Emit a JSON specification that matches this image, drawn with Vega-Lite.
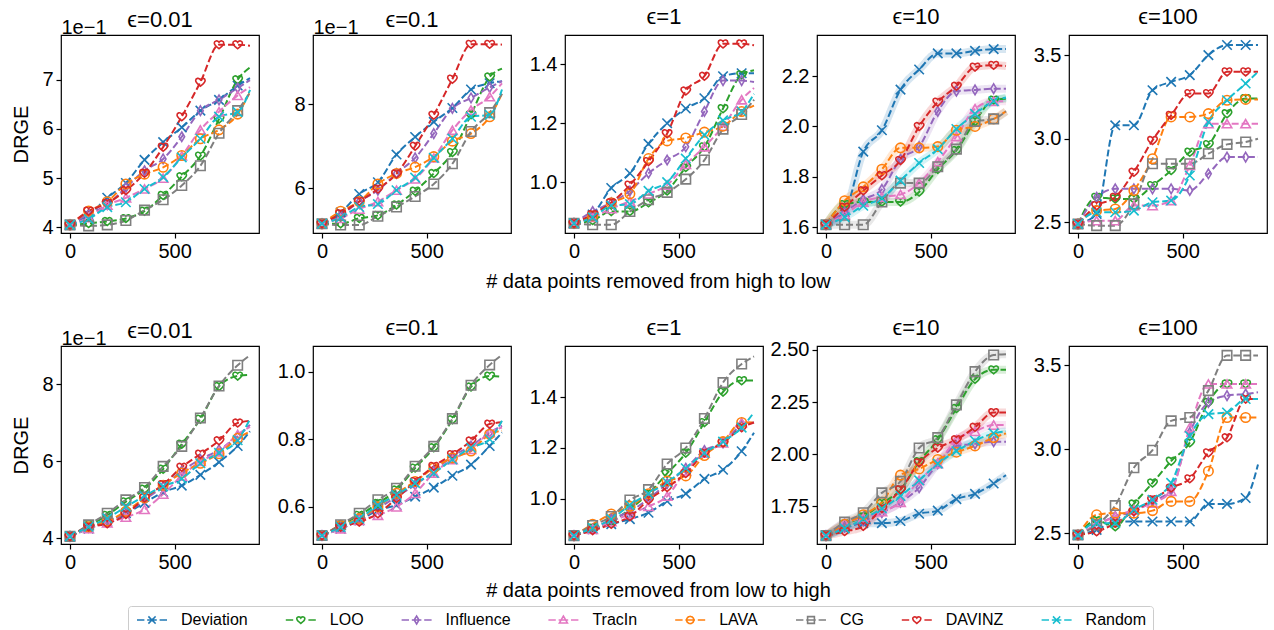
{
"$schema":"https://vega.github.io/schema/vega-lite/v6.json",
"padding":{"left":11,"top":5,"right":4,"bottom":0},
"bounds":"flush",
"columns":5,
"spacing":{"row":113,"column":54},
"data":{"values":[
{"p":"H1","x":0,"Deviation":0.405,"LOO":0.405,"Influence":0.405,"TracIn":0.405,"LAVA":0.405,"CG":0.405,"DAVINZ":0.405,"Random":0.405},
{"p":"H1","x":89,"Deviation":0.425,"LOO":0.408,"Influence":0.427,"TracIn":0.42,"LAVA":0.433,"CG":0.403,"DAVINZ":0.433,"Random":0.417},
{"p":"H1","x":178,"Deviation":0.46,"LOO":0.412,"Influence":0.446,"TracIn":0.445,"LAVA":0.452,"CG":0.405,"DAVINZ":0.449,"Random":0.441},
{"p":"H1","x":267,"Deviation":0.49,"LOO":0.418,"Influence":0.481,"TracIn":0.46,"LAVA":0.488,"CG":0.414,"DAVINZ":0.475,"Random":0.451},
{"p":"H1","x":356,"Deviation":0.537,"LOO":0.433,"Influence":0.515,"TracIn":0.478,"LAVA":0.508,"CG":0.435,"DAVINZ":0.51,"Random":0.478},
{"p":"H1","x":445,"Deviation":0.573,"LOO":0.465,"Influence":0.539,"TracIn":0.5,"LAVA":0.522,"CG":0.456,"DAVINZ":0.563,"Random":0.502},
{"p":"H1","x":534,"Deviation":0.603,"LOO":0.503,"Influence":0.584,"TracIn":0.545,"LAVA":0.546,"CG":0.485,"DAVINZ":0.625,"Random":0.542},
{"p":"H1","x":623,"Deviation":0.637,"LOO":0.545,"Influence":0.637,"TracIn":0.598,"LAVA":0.58,"CG":0.525,"DAVINZ":0.695,"Random":0.58},
{"p":"H1","x":712,"Deviation":0.659,"LOO":0.62,"Influence":0.659,"TracIn":0.635,"LAVA":0.598,"CG":0.591,"DAVINZ":0.771,"Random":0.625},
{"p":"H1","x":801,"Deviation":0.688,"LOO":0.7,"Influence":0.683,"TracIn":0.668,"LAVA":0.63,"CG":0.637,"DAVINZ":0.771,"Random":0.634},
{"p":"H1","x":860,"Deviation":0.703,"LOO":0.725,"Influence":0.699,"TracIn":0.685,"LAVA":0.675,"CG":0.674,"DAVINZ":0.769,"Random":0.679},
{"p":"H2","x":0,"Deviation":0.515,"LOO":0.515,"Influence":0.515,"TracIn":0.515,"LAVA":0.515,"CG":0.515,"DAVINZ":0.515,"Random":0.515},
{"p":"H2","x":89,"Deviation":0.542,"LOO":0.515,"Influence":0.535,"TracIn":0.528,"LAVA":0.545,"CG":0.512,"DAVINZ":0.539,"Random":0.53},
{"p":"H2","x":178,"Deviation":0.586,"LOO":0.528,"Influence":0.568,"TracIn":0.55,"LAVA":0.568,"CG":0.512,"DAVINZ":0.568,"Random":0.555},
{"p":"H2","x":267,"Deviation":0.614,"LOO":0.535,"Influence":0.595,"TracIn":0.568,"LAVA":0.61,"CG":0.533,"DAVINZ":0.598,"Random":0.562},
{"p":"H2","x":356,"Deviation":0.68,"LOO":0.56,"Influence":0.635,"TracIn":0.595,"LAVA":0.635,"CG":0.555,"DAVINZ":0.634,"Random":0.595},
{"p":"H2","x":445,"Deviation":0.722,"LOO":0.593,"Influence":0.672,"TracIn":0.622,"LAVA":0.65,"CG":0.58,"DAVINZ":0.7,"Random":0.625},
{"p":"H2","x":534,"Deviation":0.758,"LOO":0.635,"Influence":0.73,"TracIn":0.672,"LAVA":0.675,"CG":0.61,"DAVINZ":0.774,"Random":0.672},
{"p":"H2","x":623,"Deviation":0.791,"LOO":0.685,"Influence":0.79,"TracIn":0.738,"LAVA":0.712,"CG":0.658,"DAVINZ":0.86,"Random":0.718},
{"p":"H2","x":712,"Deviation":0.835,"LOO":0.775,"Influence":0.815,"TracIn":0.786,"LAVA":0.73,"CG":0.735,"DAVINZ":0.943,"Random":0.77},
{"p":"H2","x":801,"Deviation":0.85,"LOO":0.865,"Influence":0.84,"TracIn":0.818,"LAVA":0.77,"CG":0.78,"DAVINZ":0.943,"Random":0.775},
{"p":"H2","x":860,"Deviation":0.855,"LOO":0.885,"Influence":0.855,"TracIn":0.85,"LAVA":0.825,"CG":0.825,"DAVINZ":0.942,"Random":0.835},
{"p":"H3","x":0,"Deviation":0.86,"LOO":0.86,"Influence":0.86,"TracIn":0.86,"LAVA":0.86,"CG":0.86,"DAVINZ":0.86,"Random":0.86},
{"p":"H3","x":89,"Deviation":0.89,"LOO":0.87,"Influence":0.9,"TracIn":0.88,"LAVA":0.885,"CG":0.855,"DAVINZ":0.89,"Random":0.88},
{"p":"H3","x":178,"Deviation":0.98,"LOO":0.9,"Influence":0.93,"TracIn":0.91,"LAVA":0.93,"CG":0.855,"DAVINZ":0.93,"Random":0.92},
{"p":"H3","x":267,"Deviation":1.03,"LOO":0.9,"Influence":0.97,"TracIn":0.935,"LAVA":0.96,"CG":0.9,"DAVINZ":0.99,"Random":0.925},
{"p":"H3","x":356,"Deviation":1.13,"LOO":0.93,"Influence":1.03,"TracIn":0.96,"LAVA":1.08,"CG":0.94,"DAVINZ":1.07,"Random":0.97},
{"p":"H3","x":445,"Deviation":1.2,"LOO":0.97,"Influence":1.075,"TracIn":0.99,"LAVA":1.14,"CG":0.965,"DAVINZ":1.165,"Random":1.0},
{"p":"H3","x":534,"Deviation":1.25,"LOO":1.05,"Influence":1.12,"TracIn":1.06,"LAVA":1.15,"CG":1.01,"DAVINZ":1.31,"Random":1.08},
{"p":"H3","x":623,"Deviation":1.285,"LOO":1.12,"Influence":1.24,"TracIn":1.12,"LAVA":1.17,"CG":1.075,"DAVINZ":1.36,"Random":1.16},
{"p":"H3","x":712,"Deviation":1.36,"LOO":1.25,"Influence":1.345,"TracIn":1.19,"LAVA":1.19,"CG":1.18,"DAVINZ":1.47,"Random":1.21},
{"p":"H3","x":801,"Deviation":1.37,"LOO":1.365,"Influence":1.345,"TracIn":1.28,"LAVA":1.24,"CG":1.23,"DAVINZ":1.47,"Random":1.24},
{"p":"H3","x":860,"Deviation":1.37,"LOO":1.38,"Influence":1.34,"TracIn":1.32,"LAVA":1.26,"CG":1.28,"DAVINZ":1.465,"Random":1.3},
{"p":"H4","x":0,"Deviation":1.61,"LOO":1.61,"Influence":1.61,"TracIn":1.61,"LAVA":1.61,"CG":1.61,"DAVINZ":1.61,"Random":1.61},
{"p":"H4","x":89,"Deviation":1.66,"LOO":1.69,"Influence":1.66,"TracIn":1.65,"LAVA":1.705,"CG":1.61,"DAVINZ":1.68,"Random":1.64},
{"p":"H4","x":178,"Deviation":1.9,"LOO":1.7,"Influence":1.71,"TracIn":1.7,"LAVA":1.76,"CG":1.61,"DAVINZ":1.745,"Random":1.685},
{"p":"H4","x":267,"Deviation":1.985,"LOO":1.7,"Influence":1.75,"TracIn":1.72,"LAVA":1.83,"CG":1.7,"DAVINZ":1.805,"Random":1.715},
{"p":"H4","x":356,"Deviation":2.146,"LOO":1.7,"Influence":1.87,"TracIn":1.73,"LAVA":1.915,"CG":1.775,"DAVINZ":1.865,"Random":1.785},
{"p":"H4","x":445,"Deviation":2.226,"LOO":1.74,"Influence":1.92,"TracIn":1.775,"LAVA":1.915,"CG":1.775,"DAVINZ":2.0,"Random":1.855},
{"p":"H4","x":534,"Deviation":2.29,"LOO":1.83,"Influence":2.06,"TracIn":1.86,"LAVA":1.92,"CG":1.84,"DAVINZ":2.097,"Random":1.91},
{"p":"H4","x":623,"Deviation":2.29,"LOO":1.905,"Influence":2.14,"TracIn":1.96,"LAVA":1.985,"CG":1.91,"DAVINZ":2.16,"Random":1.99},
{"p":"H4","x":712,"Deviation":2.3,"LOO":2.02,"Influence":2.145,"TracIn":2.07,"LAVA":2.0,"CG":2.02,"DAVINZ":2.236,"Random":2.05},
{"p":"H4","x":801,"Deviation":2.307,"LOO":2.105,"Influence":2.15,"TracIn":2.1,"LAVA":2.03,"CG":2.03,"DAVINZ":2.243,"Random":2.1},
{"p":"H4","x":860,"Deviation":2.307,"LOO":2.11,"Influence":2.15,"TracIn":2.1,"LAVA":2.06,"CG":2.06,"DAVINZ":2.24,"Random":2.115},
{"p":"H5","x":0,"Deviation":2.49,"LOO":2.49,"Influence":2.49,"TracIn":2.49,"LAVA":2.49,"CG":2.49,"DAVINZ":2.49,"Random":2.49},
{"p":"H5","x":89,"Deviation":2.55,"LOO":2.65,"Influence":2.65,"TracIn":2.51,"LAVA":2.57,"CG":2.48,"DAVINZ":2.6,"Random":2.56},
{"p":"H5","x":178,"Deviation":3.08,"LOO":2.64,"Influence":2.7,"TracIn":2.51,"LAVA":2.58,"CG":2.48,"DAVINZ":2.65,"Random":2.56},
{"p":"H5","x":267,"Deviation":3.08,"LOO":2.64,"Influence":2.7,"TracIn":2.6,"LAVA":2.69,"CG":2.61,"DAVINZ":2.8,"Random":2.57},
{"p":"H5","x":356,"Deviation":3.29,"LOO":2.72,"Influence":2.7,"TracIn":2.6,"LAVA":2.88,"CG":2.85,"DAVINZ":2.99,"Random":2.62},
{"p":"H5","x":445,"Deviation":3.34,"LOO":2.81,"Influence":2.7,"TracIn":2.63,"LAVA":3.13,"CG":2.85,"DAVINZ":3.14,"Random":2.63},
{"p":"H5","x":534,"Deviation":3.38,"LOO":2.92,"Influence":2.69,"TracIn":2.84,"LAVA":3.13,"CG":2.85,"DAVINZ":3.27,"Random":2.78},
{"p":"H5","x":623,"Deviation":3.5,"LOO":2.965,"Influence":2.79,"TracIn":3.09,"LAVA":3.15,"CG":2.91,"DAVINZ":3.27,"Random":3.1},
{"p":"H5","x":712,"Deviation":3.56,"LOO":3.15,"Influence":2.89,"TracIn":3.09,"LAVA":3.23,"CG":2.966,"DAVINZ":3.4,"Random":3.23},
{"p":"H5","x":801,"Deviation":3.56,"LOO":3.24,"Influence":2.89,"TracIn":3.09,"LAVA":3.235,"CG":2.98,"DAVINZ":3.4,"Random":3.33},
{"p":"H5","x":860,"Deviation":3.56,"LOO":3.24,"Influence":2.89,"TracIn":3.09,"LAVA":3.235,"CG":3.0,"DAVINZ":3.4,"Random":3.4},
{"p":"L1","x":0,"Deviation":0.405,"LOO":0.405,"Influence":0.405,"TracIn":0.405,"LAVA":0.405,"CG":0.405,"DAVINZ":0.405,"Random":0.405},
{"p":"L1","x":89,"Deviation":0.425,"LOO":0.433,"Influence":0.428,"TracIn":0.425,"LAVA":0.43,"CG":0.435,"DAVINZ":0.43,"Random":0.43},
{"p":"L1","x":178,"Deviation":0.445,"LOO":0.46,"Influence":0.445,"TracIn":0.44,"LAVA":0.445,"CG":0.465,"DAVINZ":0.438,"Random":0.452},
{"p":"L1","x":267,"Deviation":0.465,"LOO":0.495,"Influence":0.465,"TracIn":0.455,"LAVA":0.47,"CG":0.5,"DAVINZ":0.462,"Random":0.482},
{"p":"L1","x":356,"Deviation":0.492,"LOO":0.528,"Influence":0.5,"TracIn":0.475,"LAVA":0.505,"CG":0.532,"DAVINZ":0.505,"Random":0.51},
{"p":"L1","x":445,"Deviation":0.52,"LOO":0.58,"Influence":0.535,"TracIn":0.515,"LAVA":0.538,"CG":0.587,"DAVINZ":0.54,"Random":0.535},
{"p":"L1","x":534,"Deviation":0.537,"LOO":0.645,"Influence":0.575,"TracIn":0.562,"LAVA":0.57,"CG":0.639,"DAVINZ":0.585,"Random":0.555},
{"p":"L1","x":623,"Deviation":0.565,"LOO":0.71,"Influence":0.605,"TracIn":0.6,"LAVA":0.595,"CG":0.713,"DAVINZ":0.619,"Random":0.595},
{"p":"L1","x":712,"Deviation":0.598,"LOO":0.795,"Influence":0.63,"TracIn":0.625,"LAVA":0.62,"CG":0.796,"DAVINZ":0.654,"Random":0.622},
{"p":"L1","x":801,"Deviation":0.64,"LOO":0.822,"Influence":0.665,"TracIn":0.67,"LAVA":0.66,"CG":0.85,"DAVINZ":0.7,"Random":0.655},
{"p":"L1","x":860,"Deviation":0.678,"LOO":0.825,"Influence":0.695,"TracIn":0.69,"LAVA":0.678,"CG":0.876,"DAVINZ":0.705,"Random":0.71},
{"p":"L2","x":0,"Deviation":0.515,"LOO":0.515,"Influence":0.515,"TracIn":0.515,"LAVA":0.515,"CG":0.515,"DAVINZ":0.515,"Random":0.515},
{"p":"L2","x":89,"Deviation":0.535,"LOO":0.545,"Influence":0.54,"TracIn":0.535,"LAVA":0.545,"CG":0.547,"DAVINZ":0.54,"Random":0.54},
{"p":"L2","x":178,"Deviation":0.56,"LOO":0.575,"Influence":0.565,"TracIn":0.56,"LAVA":0.565,"CG":0.581,"DAVINZ":0.555,"Random":0.565},
{"p":"L2","x":267,"Deviation":0.59,"LOO":0.61,"Influence":0.595,"TracIn":0.575,"LAVA":0.6,"CG":0.621,"DAVINZ":0.58,"Random":0.605},
{"p":"L2","x":356,"Deviation":0.605,"LOO":0.65,"Influence":0.63,"TracIn":0.6,"LAVA":0.64,"CG":0.655,"DAVINZ":0.625,"Random":0.635},
{"p":"L2","x":445,"Deviation":0.63,"LOO":0.715,"Influence":0.665,"TracIn":0.64,"LAVA":0.675,"CG":0.72,"DAVINZ":0.675,"Random":0.67},
{"p":"L2","x":534,"Deviation":0.657,"LOO":0.775,"Influence":0.705,"TracIn":0.7,"LAVA":0.715,"CG":0.779,"DAVINZ":0.72,"Random":0.7},
{"p":"L2","x":623,"Deviation":0.692,"LOO":0.858,"Influence":0.75,"TracIn":0.74,"LAVA":0.745,"CG":0.861,"DAVINZ":0.755,"Random":0.74},
{"p":"L2","x":712,"Deviation":0.725,"LOO":0.955,"Influence":0.78,"TracIn":0.77,"LAVA":0.765,"CG":0.96,"DAVINZ":0.795,"Random":0.775},
{"p":"L2","x":801,"Deviation":0.78,"LOO":0.987,"Influence":0.82,"TracIn":0.82,"LAVA":0.815,"CG":1.02,"DAVINZ":0.845,"Random":0.8},
{"p":"L2","x":860,"Deviation":0.82,"LOO":0.985,"Influence":0.84,"TracIn":0.835,"LAVA":0.825,"CG":1.05,"DAVINZ":0.85,"Random":0.855},
{"p":"L3","x":0,"Deviation":0.855,"LOO":0.855,"Influence":0.855,"TracIn":0.855,"LAVA":0.855,"CG":0.855,"DAVINZ":0.855,"Random":0.855},
{"p":"L3","x":89,"Deviation":0.88,"LOO":0.885,"Influence":0.88,"TracIn":0.88,"LAVA":0.9,"CG":0.895,"DAVINZ":0.875,"Random":0.885},
{"p":"L3","x":178,"Deviation":0.9,"LOO":0.91,"Influence":0.92,"TracIn":0.91,"LAVA":0.94,"CG":0.93,"DAVINZ":0.9,"Random":0.92},
{"p":"L3","x":267,"Deviation":0.92,"LOO":0.96,"Influence":0.95,"TracIn":0.94,"LAVA":0.97,"CG":0.995,"DAVINZ":0.93,"Random":0.975},
{"p":"L3","x":356,"Deviation":0.945,"LOO":1.02,"Influence":1.0,"TracIn":0.97,"LAVA":1.02,"CG":1.036,"DAVINZ":0.995,"Random":1.02},
{"p":"L3","x":445,"Deviation":0.99,"LOO":1.1,"Influence":1.06,"TracIn":1.01,"LAVA":1.07,"CG":1.137,"DAVINZ":1.045,"Random":1.065},
{"p":"L3","x":534,"Deviation":1.02,"LOO":1.18,"Influence":1.12,"TracIn":1.11,"LAVA":1.09,"CG":1.2,"DAVINZ":1.1,"Random":1.12},
{"p":"L3","x":623,"Deviation":1.078,"LOO":1.3,"Influence":1.19,"TracIn":1.18,"LAVA":1.17,"CG":1.316,"DAVINZ":1.18,"Random":1.18},
{"p":"L3","x":712,"Deviation":1.114,"LOO":1.42,"Influence":1.22,"TracIn":1.22,"LAVA":1.225,"CG":1.457,"DAVINZ":1.22,"Random":1.225},
{"p":"L3","x":801,"Deviation":1.187,"LOO":1.465,"Influence":1.29,"TracIn":1.3,"LAVA":1.3,"CG":1.53,"DAVINZ":1.28,"Random":1.28},
{"p":"L3","x":860,"Deviation":1.26,"LOO":1.465,"Influence":1.3,"TracIn":1.3,"LAVA":1.3,"CG":1.56,"DAVINZ":1.3,"Random":1.34},
{"p":"L4","x":0,"Deviation":1.61,"LOO":1.61,"Influence":1.61,"TracIn":1.61,"LAVA":1.61,"CG":1.61,"DAVINZ":1.61,"Random":1.61},
{"p":"L4","x":89,"Deviation":1.645,"LOO":1.665,"Influence":1.65,"TracIn":1.67,"LAVA":1.665,"CG":1.675,"DAVINZ":1.63,"Random":1.645},
{"p":"L4","x":178,"Deviation":1.67,"LOO":1.7,"Influence":1.68,"TracIn":1.695,"LAVA":1.71,"CG":1.72,"DAVINZ":1.655,"Random":1.69},
{"p":"L4","x":267,"Deviation":1.67,"LOO":1.765,"Influence":1.72,"TracIn":1.725,"LAVA":1.77,"CG":1.815,"DAVINZ":1.74,"Random":1.74},
{"p":"L4","x":356,"Deviation":1.68,"LOO":1.83,"Influence":1.77,"TracIn":1.77,"LAVA":1.9,"CG":1.87,"DAVINZ":1.83,"Random":1.8},
{"p":"L4","x":445,"Deviation":1.715,"LOO":1.965,"Influence":1.84,"TracIn":1.875,"LAVA":1.93,"CG":2.03,"DAVINZ":1.96,"Random":1.875},
{"p":"L4","x":534,"Deviation":1.73,"LOO":2.07,"Influence":1.955,"TracIn":1.955,"LAVA":1.975,"CG":2.08,"DAVINZ":2.03,"Random":1.955},
{"p":"L4","x":623,"Deviation":1.785,"LOO":2.22,"Influence":2.04,"TracIn":2.07,"LAVA":2.01,"CG":2.237,"DAVINZ":2.07,"Random":2.015},
{"p":"L4","x":712,"Deviation":1.81,"LOO":2.36,"Influence":2.05,"TracIn":2.11,"LAVA":2.04,"CG":2.396,"DAVINZ":2.13,"Random":2.065},
{"p":"L4","x":801,"Deviation":1.86,"LOO":2.405,"Influence":2.06,"TracIn":2.14,"LAVA":2.08,"CG":2.476,"DAVINZ":2.2,"Random":2.1},
{"p":"L4","x":860,"Deviation":1.9,"LOO":2.405,"Influence":2.06,"TracIn":2.14,"LAVA":2.1,"CG":2.48,"DAVINZ":2.2,"Random":2.11},
{"p":"L5","x":0,"Deviation":2.49,"LOO":2.49,"Influence":2.49,"TracIn":2.49,"LAVA":2.49,"CG":2.49,"DAVINZ":2.49,"Random":2.49},
{"p":"L5","x":89,"Deviation":2.52,"LOO":2.575,"Influence":2.55,"TracIn":2.55,"LAVA":2.61,"CG":2.55,"DAVINZ":2.51,"Random":2.56},
{"p":"L5","x":178,"Deviation":2.57,"LOO":2.54,"Influence":2.6,"TracIn":2.6,"LAVA":2.62,"CG":2.665,"DAVINZ":2.56,"Random":2.56},
{"p":"L5","x":267,"Deviation":2.57,"LOO":2.675,"Influence":2.63,"TracIn":2.64,"LAVA":2.62,"CG":2.89,"DAVINZ":2.63,"Random":2.64},
{"p":"L5","x":356,"Deviation":2.57,"LOO":2.8,"Influence":2.69,"TracIn":2.68,"LAVA":2.635,"CG":2.995,"DAVINZ":2.7,"Random":2.7},
{"p":"L5","x":445,"Deviation":2.57,"LOO":2.93,"Influence":2.76,"TracIn":2.75,"LAVA":2.69,"CG":3.17,"DAVINZ":2.77,"Random":2.8},
{"p":"L5","x":534,"Deviation":2.57,"LOO":3.04,"Influence":3.1,"TracIn":3.13,"LAVA":2.69,"CG":3.19,"DAVINZ":2.825,"Random":3.08},
{"p":"L5","x":623,"Deviation":2.675,"LOO":3.28,"Influence":3.28,"TracIn":3.39,"LAVA":2.87,"CG":3.35,"DAVINZ":2.98,"Random":3.21},
{"p":"L5","x":712,"Deviation":2.675,"LOO":3.39,"Influence":3.32,"TracIn":3.39,"LAVA":3.19,"CG":3.56,"DAVINZ":3.07,"Random":3.22},
{"p":"L5","x":801,"Deviation":2.71,"LOO":3.39,"Influence":3.33,"TracIn":3.39,"LAVA":3.19,"CG":3.56,"DAVINZ":3.3,"Random":3.3},
{"p":"L5","x":860,"Deviation":2.91,"LOO":3.39,"Influence":3.34,"TracIn":3.39,"LAVA":3.19,"CG":3.56,"DAVINZ":3.3,"Random":3.3}
]},
"concat":[
{"width":198,"height":198,"title":{"text":"ϵ=0.01","offset":-14},
 "transform":[{"filter":"datum.p==='H1'"},{"fold":["Deviation","LOO","Influence","TracIn","LAVA","CG","DAVINZ","Random"],"as":["m","v"]}],
 "encoding":{
  "x":{"field":"x","type":"quantitative","scale":{"domain":[-43,903],"nice":false,"zero":false},"axis":{"values":[0,500],"title":null}},
  "y":{"field":"v","type":"quantitative","scale":{"domain":[0.3885,0.7907],"nice":false,"zero":false},"axis":{"values":[0.4,0.5,0.6,0.7],"labelExpr":"format(datum.value*10,'.0f')","title":"DRGE"}},
  "color":{"field":"m","type":"nominal","scale":{"domain":["Deviation","LOO","Influence","TracIn","LAVA","CG","DAVINZ","Random"]},"legend":{"orient":"none","legendX":67,"legendY":571,"direction":"horizontal","columns":8,"title":null,"symbolSize":64,"symbolStrokeWidth":1.5,"symbolDash":[1,0],"symbolOpacity":1,"symbolFillColor":"transparent","symbolOffset":10,"labelOffset":21,"columnPadding":33.8,"labelFontSize":16,"labelColor":"#000","labelLimit":300,"padding":6,"strokeColor":"#cccccc","fillColor":"#ffffff","cornerRadius":3}}
 },
 "layer":[
  {"layer":[
   {"transform":[{"filter":"datum.x<0"}],"mark":{"type":"point"},"encoding":{"shape":{"field":"m","type":"nominal","scale":{"domain":["Deviation","LOO","Influence","TracIn","LAVA","CG","DAVINZ","Random"]},"legend":{"orient":"none","legendX":67,"legendY":571,"direction":"horizontal","columns":8,"title":null,"symbolSize":64,"symbolStrokeWidth":1.5,"symbolDash":[1,0],"symbolOpacity":1,"symbolFillColor":"transparent","symbolOffset":10,"labelOffset":21,"columnPadding":33.8,"labelFontSize":16,"labelColor":"#000","labelLimit":300,"padding":6,"strokeColor":"#cccccc","fillColor":"#ffffff","cornerRadius":3}}}},
   {"mark":{"type":"line"}},
   {"transform":[{"filter":"datum.x<850"}],"mark":{"type":"point"},"encoding":{"shape":{"condition":[{"test":"datum.m==='LOO'||datum.m==='DAVINZ'","value":"M0,0.85C-0.35,0.55 -1,0.15 -1,-0.35C-1,-0.8 -0.35,-1 0,-0.5C0.35,-1 1,-0.8 1,-0.35C1,0.15 0.35,0.55 0,0.85Z"},{"test":"datum.m==='Influence'","value":"M0,-1L0.6,0L0,1L-0.6,0Z"},{"test":"datum.m==='TracIn'","value":"triangle-up"},{"test":"datum.m==='LAVA'","value":"circle"},{"test":"datum.m==='CG'","value":"square"}],"value":"M-1,-1L1,1M-1,1L1,-1"}}}
  ]},
  {"mark":{"type":"point","opacity":0},"encoding":{"x":{"field":"x","type":"quantitative","axis":{"orient":"top","title":"1e−1","labels":false,"ticks":false,"domain":false,"titleAnchor":"start","titlePadding":-2.5}}}}
 ],
 "resolve":{"axis":{"x":"independent"}}
},
{"width":198,"height":198,"title":{"text":"ϵ=0.1","offset":-14},
 "transform":[{"filter":"datum.p==='H2'"},{"fold":["Deviation","LOO","Influence","TracIn","LAVA","CG","DAVINZ","Random"],"as":["m","v"]}],
 "encoding":{
  "x":{"field":"x","type":"quantitative","scale":{"domain":[-43,903],"nice":false,"zero":false},"axis":{"values":[0,500],"title":null}},
  "y":{"field":"v","type":"quantitative","scale":{"domain":[0.493,0.965],"nice":false,"zero":false},"axis":{"values":[0.6,0.8],"labelExpr":"format(datum.value*10,'.0f')","title":null}},
  "color":{"field":"m","type":"nominal","scale":{"domain":["Deviation","LOO","Influence","TracIn","LAVA","CG","DAVINZ","Random"]},"legend":{"orient":"none","legendX":67,"legendY":571,"direction":"horizontal","columns":8,"title":null,"symbolSize":64,"symbolStrokeWidth":1.5,"symbolDash":[1,0],"symbolOpacity":1,"symbolFillColor":"transparent","symbolOffset":10,"labelOffset":21,"columnPadding":33.8,"labelFontSize":16,"labelColor":"#000","labelLimit":300,"padding":6,"strokeColor":"#cccccc","fillColor":"#ffffff","cornerRadius":3}}
 },
 "layer":[
  {"layer":[
   {"mark":{"type":"line"}},
   {"transform":[{"filter":"datum.x<850"}],"mark":{"type":"point"},"encoding":{"shape":{"condition":[{"test":"datum.m==='LOO'||datum.m==='DAVINZ'","value":"M0,0.85C-0.35,0.55 -1,0.15 -1,-0.35C-1,-0.8 -0.35,-1 0,-0.5C0.35,-1 1,-0.8 1,-0.35C1,0.15 0.35,0.55 0,0.85Z"},{"test":"datum.m==='Influence'","value":"M0,-1L0.6,0L0,1L-0.6,0Z"},{"test":"datum.m==='TracIn'","value":"triangle-up"},{"test":"datum.m==='LAVA'","value":"circle"},{"test":"datum.m==='CG'","value":"square"}],"value":"M-1,-1L1,1M-1,1L1,-1"}}}
  ]},
  {"mark":{"type":"point","opacity":0},"encoding":{"x":{"field":"x","type":"quantitative","axis":{"orient":"top","title":"1e−1","labels":false,"ticks":false,"domain":false,"titleAnchor":"start","titlePadding":-2.5}}}}
 ],
 "resolve":{"axis":{"x":"independent"}}
},
{"width":198,"height":198,"title":{"text":"ϵ=1","offset":6},
 "transform":[{"filter":"datum.p==='H3'"},{"fold":["Deviation","LOO","Influence","TracIn","LAVA","CG","DAVINZ","Random"],"as":["m","v"]}],
 "encoding":{
  "x":{"field":"x","type":"quantitative","scale":{"domain":[-43,903],"nice":false,"zero":false},"axis":{"values":[0,500],"title":"# data points removed from high to low","titlePadding":10,"titleX":93}},
  "y":{"field":"v","type":"quantitative","scale":{"domain":[0.827,1.5],"nice":false,"zero":false},"axis":{"values":[1.0,1.2,1.4],"format":".1f","title":null}},
  "color":{"field":"m","type":"nominal","scale":{"domain":["Deviation","LOO","Influence","TracIn","LAVA","CG","DAVINZ","Random"]},"legend":{"orient":"none","legendX":67,"legendY":571,"direction":"horizontal","columns":8,"title":null,"symbolSize":64,"symbolStrokeWidth":1.5,"symbolDash":[1,0],"symbolOpacity":1,"symbolFillColor":"transparent","symbolOffset":10,"labelOffset":21,"columnPadding":33.8,"labelFontSize":16,"labelColor":"#000","labelLimit":300,"padding":6,"strokeColor":"#cccccc","fillColor":"#ffffff","cornerRadius":3}}
 },
 "layer":[
  {"mark":{"type":"line"}},
  {"transform":[{"filter":"datum.x<850"}],"mark":{"type":"point"},"encoding":{"shape":{"condition":[{"test":"datum.m==='LOO'||datum.m==='DAVINZ'","value":"M0,0.85C-0.35,0.55 -1,0.15 -1,-0.35C-1,-0.8 -0.35,-1 0,-0.5C0.35,-1 1,-0.8 1,-0.35C1,0.15 0.35,0.55 0,0.85Z"},{"test":"datum.m==='Influence'","value":"M0,-1L0.6,0L0,1L-0.6,0Z"},{"test":"datum.m==='TracIn'","value":"triangle-up"},{"test":"datum.m==='LAVA'","value":"circle"},{"test":"datum.m==='CG'","value":"square"}],"value":"M-1,-1L1,1M-1,1L1,-1"}}}
 ]
},
{"width":198,"height":198,"title":{"text":"ϵ=10","offset":4},
 "transform":[{"filter":"datum.p==='H4'"},{"fold":["Deviation","LOO","Influence","TracIn","LAVA","CG","DAVINZ","Random"],"as":["m","v"]}],
 "encoding":{
  "x":{"field":"x","type":"quantitative","scale":{"domain":[-43,903],"nice":false,"zero":false},"axis":{"values":[0,500],"title":null}},
  "y":{"field":"v","type":"quantitative","scale":{"domain":[1.577,2.363],"nice":false,"zero":false},"axis":{"values":[1.6,1.8,2.0,2.2],"format":".1f","title":null}},
  "color":{"field":"m","type":"nominal","scale":{"domain":["Deviation","LOO","Influence","TracIn","LAVA","CG","DAVINZ","Random"]},"legend":{"orient":"none","legendX":67,"legendY":571,"direction":"horizontal","columns":8,"title":null,"symbolSize":64,"symbolStrokeWidth":1.5,"symbolDash":[1,0],"symbolOpacity":1,"symbolFillColor":"transparent","symbolOffset":10,"labelOffset":21,"columnPadding":33.8,"labelFontSize":16,"labelColor":"#000","labelLimit":300,"padding":6,"strokeColor":"#cccccc","fillColor":"#ffffff","cornerRadius":3}}
 },
 "layer":[
  {"mark":{"type":"line","strokeWidth":8,"opacity":0.18,"strokeDash":[1,0]}},
  {"mark":{"type":"line"}},
  {"transform":[{"filter":"datum.x<850"}],"mark":{"type":"point"},"encoding":{"shape":{"condition":[{"test":"datum.m==='LOO'||datum.m==='DAVINZ'","value":"M0,0.85C-0.35,0.55 -1,0.15 -1,-0.35C-1,-0.8 -0.35,-1 0,-0.5C0.35,-1 1,-0.8 1,-0.35C1,0.15 0.35,0.55 0,0.85Z"},{"test":"datum.m==='Influence'","value":"M0,-1L0.6,0L0,1L-0.6,0Z"},{"test":"datum.m==='TracIn'","value":"triangle-up"},{"test":"datum.m==='LAVA'","value":"circle"},{"test":"datum.m==='CG'","value":"square"}],"value":"M-1,-1L1,1M-1,1L1,-1"}}}
 ]
},
{"width":198,"height":198,"title":{"text":"ϵ=100","offset":6},
 "transform":[{"filter":"datum.p==='H5'"},{"fold":["Deviation","LOO","Influence","TracIn","LAVA","CG","DAVINZ","Random"],"as":["m","v"]}],
 "encoding":{
  "x":{"field":"x","type":"quantitative","scale":{"domain":[-43,903],"nice":false,"zero":false},"axis":{"values":[0,500],"title":null}},
  "y":{"field":"v","type":"quantitative","scale":{"domain":[2.436,3.62],"nice":false,"zero":false},"axis":{"values":[2.5,3.0,3.5],"format":".1f","title":null}},
  "color":{"field":"m","type":"nominal","scale":{"domain":["Deviation","LOO","Influence","TracIn","LAVA","CG","DAVINZ","Random"]},"legend":{"orient":"none","legendX":67,"legendY":571,"direction":"horizontal","columns":8,"title":null,"symbolSize":64,"symbolStrokeWidth":1.5,"symbolDash":[1,0],"symbolOpacity":1,"symbolFillColor":"transparent","symbolOffset":10,"labelOffset":21,"columnPadding":33.8,"labelFontSize":16,"labelColor":"#000","labelLimit":300,"padding":6,"strokeColor":"#cccccc","fillColor":"#ffffff","cornerRadius":3}}
 },
 "layer":[
  {"mark":{"type":"line"}},
  {"transform":[{"filter":"datum.x<850"}],"mark":{"type":"point"},"encoding":{"shape":{"condition":[{"test":"datum.m==='LOO'||datum.m==='DAVINZ'","value":"M0,0.85C-0.35,0.55 -1,0.15 -1,-0.35C-1,-0.8 -0.35,-1 0,-0.5C0.35,-1 1,-0.8 1,-0.35C1,0.15 0.35,0.55 0,0.85Z"},{"test":"datum.m==='Influence'","value":"M0,-1L0.6,0L0,1L-0.6,0Z"},{"test":"datum.m==='TracIn'","value":"triangle-up"},{"test":"datum.m==='LAVA'","value":"circle"},{"test":"datum.m==='CG'","value":"square"}],"value":"M-1,-1L1,1M-1,1L1,-1"}}}
 ]
},
{"width":198,"height":198,"title":{"text":"ϵ=0.01","offset":-14},
 "transform":[{"filter":"datum.p==='L1'"},{"fold":["Deviation","LOO","Influence","TracIn","LAVA","CG","DAVINZ","Random"],"as":["m","v"]}],
 "encoding":{
  "x":{"field":"x","type":"quantitative","scale":{"domain":[-43,903],"nice":false,"zero":false},"axis":{"values":[0,500],"title":null}},
  "y":{"field":"v","type":"quantitative","scale":{"domain":[0.3852,0.9],"nice":false,"zero":false},"axis":{"values":[0.4,0.6,0.8],"labelExpr":"format(datum.value*10,'.0f')","title":"DRGE"}},
  "color":{"field":"m","type":"nominal","scale":{"domain":["Deviation","LOO","Influence","TracIn","LAVA","CG","DAVINZ","Random"]},"legend":{"orient":"none","legendX":67,"legendY":571,"direction":"horizontal","columns":8,"title":null,"symbolSize":64,"symbolStrokeWidth":1.5,"symbolDash":[1,0],"symbolOpacity":1,"symbolFillColor":"transparent","symbolOffset":10,"labelOffset":21,"columnPadding":33.8,"labelFontSize":16,"labelColor":"#000","labelLimit":300,"padding":6,"strokeColor":"#cccccc","fillColor":"#ffffff","cornerRadius":3}}
 },
 "layer":[
  {"layer":[
   {"mark":{"type":"line"}},
   {"transform":[{"filter":"datum.x<850"}],"mark":{"type":"point"},"encoding":{"shape":{"condition":[{"test":"datum.m==='LOO'||datum.m==='DAVINZ'","value":"M0,0.85C-0.35,0.55 -1,0.15 -1,-0.35C-1,-0.8 -0.35,-1 0,-0.5C0.35,-1 1,-0.8 1,-0.35C1,0.15 0.35,0.55 0,0.85Z"},{"test":"datum.m==='Influence'","value":"M0,-1L0.6,0L0,1L-0.6,0Z"},{"test":"datum.m==='TracIn'","value":"triangle-up"},{"test":"datum.m==='LAVA'","value":"circle"},{"test":"datum.m==='CG'","value":"square"}],"value":"M-1,-1L1,1M-1,1L1,-1"}}}
  ]},
  {"mark":{"type":"point","opacity":0},"encoding":{"x":{"field":"x","type":"quantitative","axis":{"orient":"top","title":"1e−1","labels":false,"ticks":false,"domain":false,"titleAnchor":"start","titlePadding":-2.5}}}}
 ],
 "resolve":{"axis":{"x":"independent"}}
},
{"width":198,"height":198,"title":{"text":"ϵ=0.1","offset":6},
 "transform":[{"filter":"datum.p==='L2'"},{"fold":["Deviation","LOO","Influence","TracIn","LAVA","CG","DAVINZ","Random"],"as":["m","v"]}],
 "encoding":{
  "x":{"field":"x","type":"quantitative","scale":{"domain":[-43,903],"nice":false,"zero":false},"axis":{"values":[0,500],"title":null}},
  "y":{"field":"v","type":"quantitative","scale":{"domain":[0.49,1.076],"nice":false,"zero":false},"axis":{"values":[0.6,0.8,1.0],"format":".1f","title":null}},
  "color":{"field":"m","type":"nominal","scale":{"domain":["Deviation","LOO","Influence","TracIn","LAVA","CG","DAVINZ","Random"]},"legend":{"orient":"none","legendX":67,"legendY":571,"direction":"horizontal","columns":8,"title":null,"symbolSize":64,"symbolStrokeWidth":1.5,"symbolDash":[1,0],"symbolOpacity":1,"symbolFillColor":"transparent","symbolOffset":10,"labelOffset":21,"columnPadding":33.8,"labelFontSize":16,"labelColor":"#000","labelLimit":300,"padding":6,"strokeColor":"#cccccc","fillColor":"#ffffff","cornerRadius":3}}
 },
 "layer":[
  {"mark":{"type":"line"}},
  {"transform":[{"filter":"datum.x<850"}],"mark":{"type":"point"},"encoding":{"shape":{"condition":[{"test":"datum.m==='LOO'||datum.m==='DAVINZ'","value":"M0,0.85C-0.35,0.55 -1,0.15 -1,-0.35C-1,-0.8 -0.35,-1 0,-0.5C0.35,-1 1,-0.8 1,-0.35C1,0.15 0.35,0.55 0,0.85Z"},{"test":"datum.m==='Influence'","value":"M0,-1L0.6,0L0,1L-0.6,0Z"},{"test":"datum.m==='TracIn'","value":"triangle-up"},{"test":"datum.m==='LAVA'","value":"circle"},{"test":"datum.m==='CG'","value":"square"}],"value":"M-1,-1L1,1M-1,1L1,-1"}}}
 ]
},
{"width":198,"height":198,"title":{"text":"ϵ=1","offset":6},
 "transform":[{"filter":"datum.p==='L3'"},{"fold":["Deviation","LOO","Influence","TracIn","LAVA","CG","DAVINZ","Random"],"as":["m","v"]}],
 "encoding":{
  "x":{"field":"x","type":"quantitative","scale":{"domain":[-43,903],"nice":false,"zero":false},"axis":{"values":[0,500],"title":"# data points removed from low to high","titlePadding":8,"titleX":93}},
  "y":{"field":"v","type":"quantitative","scale":{"domain":[0.822,1.601],"nice":false,"zero":false},"axis":{"values":[1.0,1.2,1.4],"format":".1f","title":null}},
  "color":{"field":"m","type":"nominal","scale":{"domain":["Deviation","LOO","Influence","TracIn","LAVA","CG","DAVINZ","Random"]},"legend":{"orient":"none","legendX":67,"legendY":571,"direction":"horizontal","columns":8,"title":null,"symbolSize":64,"symbolStrokeWidth":1.5,"symbolDash":[1,0],"symbolOpacity":1,"symbolFillColor":"transparent","symbolOffset":10,"labelOffset":21,"columnPadding":33.8,"labelFontSize":16,"labelColor":"#000","labelLimit":300,"padding":6,"strokeColor":"#cccccc","fillColor":"#ffffff","cornerRadius":3}}
 },
 "layer":[
  {"mark":{"type":"line"}},
  {"transform":[{"filter":"datum.x<850"}],"mark":{"type":"point"},"encoding":{"shape":{"condition":[{"test":"datum.m==='LOO'||datum.m==='DAVINZ'","value":"M0,0.85C-0.35,0.55 -1,0.15 -1,-0.35C-1,-0.8 -0.35,-1 0,-0.5C0.35,-1 1,-0.8 1,-0.35C1,0.15 0.35,0.55 0,0.85Z"},{"test":"datum.m==='Influence'","value":"M0,-1L0.6,0L0,1L-0.6,0Z"},{"test":"datum.m==='TracIn'","value":"triangle-up"},{"test":"datum.m==='LAVA'","value":"circle"},{"test":"datum.m==='CG'","value":"square"}],"value":"M-1,-1L1,1M-1,1L1,-1"}}}
 ]
},
{"width":198,"height":198,"title":{"text":"ϵ=10","offset":-2},
 "transform":[{"filter":"datum.p==='L4'"},{"fold":["Deviation","LOO","Influence","TracIn","LAVA","CG","DAVINZ","Random"],"as":["m","v"]}],
 "encoding":{
  "x":{"field":"x","type":"quantitative","scale":{"domain":[-43,903],"nice":false,"zero":false},"axis":{"values":[0,500],"title":null}},
  "y":{"field":"v","type":"quantitative","scale":{"domain":[1.57,2.519],"nice":false,"zero":false},"axis":{"values":[1.75,2.0,2.25,2.5],"format":".2f","title":null}},
  "color":{"field":"m","type":"nominal","scale":{"domain":["Deviation","LOO","Influence","TracIn","LAVA","CG","DAVINZ","Random"]},"legend":{"orient":"none","legendX":67,"legendY":571,"direction":"horizontal","columns":8,"title":null,"symbolSize":64,"symbolStrokeWidth":1.5,"symbolDash":[1,0],"symbolOpacity":1,"symbolFillColor":"transparent","symbolOffset":10,"labelOffset":21,"columnPadding":33.8,"labelFontSize":16,"labelColor":"#000","labelLimit":300,"padding":6,"strokeColor":"#cccccc","fillColor":"#ffffff","cornerRadius":3}}
 },
 "layer":[
  {"mark":{"type":"line","strokeWidth":8,"opacity":0.18,"strokeDash":[1,0]}},
  {"mark":{"type":"line"}},
  {"transform":[{"filter":"datum.x<850"}],"mark":{"type":"point"},"encoding":{"shape":{"condition":[{"test":"datum.m==='LOO'||datum.m==='DAVINZ'","value":"M0,0.85C-0.35,0.55 -1,0.15 -1,-0.35C-1,-0.8 -0.35,-1 0,-0.5C0.35,-1 1,-0.8 1,-0.35C1,0.15 0.35,0.55 0,0.85Z"},{"test":"datum.m==='Influence'","value":"M0,-1L0.6,0L0,1L-0.6,0Z"},{"test":"datum.m==='TracIn'","value":"triangle-up"},{"test":"datum.m==='LAVA'","value":"circle"},{"test":"datum.m==='CG'","value":"square"}],"value":"M-1,-1L1,1M-1,1L1,-1"}}}
 ]
},
{"width":198,"height":198,"title":{"text":"ϵ=100","offset":6},
 "transform":[{"filter":"datum.p==='L5'"},{"fold":["Deviation","LOO","Influence","TracIn","LAVA","CG","DAVINZ","Random"],"as":["m","v"]}],
 "encoding":{
  "x":{"field":"x","type":"quantitative","scale":{"domain":[-43,903],"nice":false,"zero":false},"axis":{"values":[0,500],"title":null}},
  "y":{"field":"v","type":"quantitative","scale":{"domain":[2.436,3.616],"nice":false,"zero":false},"axis":{"values":[2.5,3.0,3.5],"format":".1f","title":null}},
  "color":{"field":"m","type":"nominal","scale":{"domain":["Deviation","LOO","Influence","TracIn","LAVA","CG","DAVINZ","Random"]},"legend":{"orient":"none","legendX":67,"legendY":571,"direction":"horizontal","columns":8,"title":null,"symbolSize":64,"symbolStrokeWidth":1.5,"symbolDash":[1,0],"symbolOpacity":1,"symbolFillColor":"transparent","symbolOffset":10,"labelOffset":21,"columnPadding":33.8,"labelFontSize":16,"labelColor":"#000","labelLimit":300,"padding":6,"strokeColor":"#cccccc","fillColor":"#ffffff","cornerRadius":3}}
 },
 "layer":[
  {"mark":{"type":"line"}},
  {"transform":[{"filter":"datum.x<850"}],"mark":{"type":"point"},"encoding":{"shape":{"condition":[{"test":"datum.m==='LOO'||datum.m==='DAVINZ'","value":"M0,0.85C-0.35,0.55 -1,0.15 -1,-0.35C-1,-0.8 -0.35,-1 0,-0.5C0.35,-1 1,-0.8 1,-0.35C1,0.15 0.35,0.55 0,0.85Z"},{"test":"datum.m==='Influence'","value":"M0,-1L0.6,0L0,1L-0.6,0Z"},{"test":"datum.m==='TracIn'","value":"triangle-up"},{"test":"datum.m==='LAVA'","value":"circle"},{"test":"datum.m==='CG'","value":"square"}],"value":"M-1,-1L1,1M-1,1L1,-1"}}}
 ]
}
],
"config":{
 "font":"Liberation Sans",
 "view":{"stroke":"#000","strokeWidth":1.2},
 "range":{
  "category":["#1f77b4","#2ca02c","#9467bd","#e377c2","#ff7f0e","#7f7f7f","#d62728","#17becf"],
  "symbol":["M-3.75,0H-1.9M-1.2,0H1.2M1.9,0H3.75M-0.9,-0.9L0.9,0.9M-0.9,0.9L0.9,-0.9","M-3.75,0H-1.9M1.9,0H3.75M0,0.85C-0.35,0.55 -1,0.15 -1,-0.35C-1,-0.8 -0.35,-1 0,-0.5C0.35,-1 1,-0.8 1,-0.35C1,0.15 0.35,0.55 0,0.85Z","M-3.75,0H-1.9M-1.2,0H1.2M1.9,0H3.75M0,-1L0.6,0L0,1L-0.6,0Z","M-3.75,0H-1.9M-1.2,0H1.2M1.9,0H3.75M0,-1L1,0.75L-1,0.75Z","M-3.75,0H-1.9M-1.2,0H1.2M1.9,0H3.75M0.9,0A0.9,0.9 0 1,1 -0.9,0A0.9,0.9 0 1,1 0.9,0Z","M-3.75,0H-1.9M-1.2,0H1.2M1.9,0H3.75M-0.85,-0.85H0.85V0.85H-0.85Z","M-3.75,0H-1.9M1.9,0H3.75M0,0.85C-0.35,0.55 -1,0.15 -1,-0.35C-1,-0.8 -0.35,-1 0,-0.5C0.35,-1 1,-0.8 1,-0.35C1,0.15 0.35,0.55 0,0.85Z","M-3.75,0H-1.9M-1.2,0H1.2M1.9,0H3.75M-0.9,-0.9L0.9,0.9M-0.9,0.9L0.9,-0.9"]
 },
 "axis":{"grid":false,"domain":false,"tickColor":"#000","tickSize":5,"tickWidth":1.2,"labelFontSize":20,"labelColor":"#000","labelFont":"Liberation Sans","titleFont":"Liberation Sans","titleFontSize":20,"titleFontWeight":"normal","titleColor":"#000","labelPadding":3},
 "axisY":{"titlePadding":10},
 "title":{"fontSize":22,"fontWeight":"normal","font":"Liberation Sans","color":"#000","offset":6,"frame":"group"},
 "line":{"strokeDash":[7,3],"strokeWidth":2,"interpolate":"monotone"},
 "point":{"filled":false,"size":90,"strokeWidth":1.6,"opacity":1},
 "legend":{"labelFont":"Liberation Sans"}
}
}
